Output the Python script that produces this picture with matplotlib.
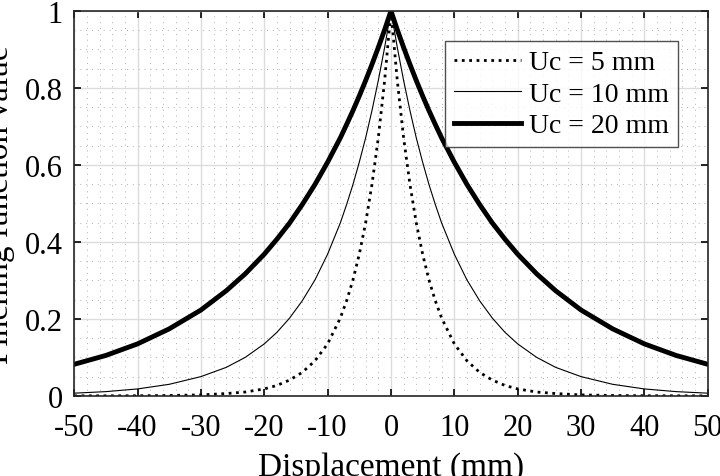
import numpy as np
import matplotlib
matplotlib.use("Agg")
import matplotlib.pyplot as plt
from matplotlib.ticker import MultipleLocator

plt.rcParams['font.family'] = ['Liberation Serif', 'DejaVu Serif']
plt.rcParams['axes.unicode_minus'] = False

# right half of the curves (they are symmetric about 0)
disp_half = [0, 1, 2, 3, 4, 5, 6, 7, 8, 10, 12, 14, 16, 18, 20, 23, 26, 30, 35, 40, 45, 50]
uc5_half = [1.0, 0.819, 0.670, 0.549, 0.449, 0.368, 0.301, 0.247, 0.202, 0.135, 0.091,
            0.061, 0.041, 0.027, 0.018, 0.010, 0.006, 0.0025, 0.001, 0.0003, 0.0001, 0.0]
uc10_half = [1.0, 0.905, 0.819, 0.741, 0.670, 0.607, 0.549, 0.497, 0.449, 0.368, 0.301,
             0.247, 0.202, 0.165, 0.135, 0.100, 0.074, 0.050, 0.030, 0.018, 0.011, 0.007]
uc20_half = [1.0, 0.951, 0.905, 0.861, 0.819, 0.779, 0.741, 0.705, 0.670, 0.607, 0.549,
             0.497, 0.449, 0.407, 0.368, 0.317, 0.273, 0.223, 0.174, 0.135, 0.105, 0.082]
labels = ["Uc = 5 mm", "Uc = 10 mm", "Uc = 20 mm"]


def mirror(xs, ys):
    xs = np.asarray(xs, float)
    ys = np.asarray(ys, float)
    return np.concatenate([-xs[:0:-1], xs]), np.concatenate([ys[:0:-1], ys])


fig = plt.figure(figsize=(7.2, 4.77), dpi=100)
ax = fig.add_axes([0.103, 0.168, 0.880, 0.807])

x, y = mirror(disp_half, uc5_half)
ax.plot(x, y, color='black', linestyle=':', lw=2.0, label=labels[0])
x, y = mirror(disp_half, uc10_half)
ax.plot(x, y, color='black', linestyle='-', lw=0.8, label=labels[1])
x, y = mirror(disp_half, uc20_half)
ax.plot(x, y, color='black', linestyle='-', lw=3.5, label=labels[2])

ax.set_xlim(-50, 50)
ax.set_ylim(0, 1)
ax.xaxis.set_major_locator(MultipleLocator(10))
ax.xaxis.set_minor_locator(MultipleLocator(2))
ax.yaxis.set_major_locator(MultipleLocator(0.2))
ax.yaxis.set_minor_locator(MultipleLocator(0.05))
ax.set_yticks([0, 0.2, 0.4, 0.6, 0.8, 1])
ax.set_yticklabels(['0', '0.2', '0.4', '0.6', '0.8', '1'])

ax.grid(which='major', color='#dcdcdc', lw=1.0, ls='-')
ax.grid(which='minor', color='#b0b0b0', lw=0.7, ls=(0, (1, 5)))
ax.set_axisbelow(True)

ax.tick_params(which='major', direction='in', length=5, width=1.2,
               top=True, right=True, labelsize=22, pad=8, colors='black')
ax.tick_params(axis='x', which='major', pad=12)
ax.tick_params(which='minor', length=0)
for sp in ax.spines.values():
    sp.set_linewidth(1.2)
    sp.set_color('#262626')

ax.set_xlabel('Displacement (mm)', fontsize=24)
ax.xaxis.set_label_coords(0.5, -0.143)
ax.set_ylabel('Pinching function value', fontsize=24)
ax.yaxis.set_label_coords(-0.093, 0.5)

leg = ax.legend(loc='upper right', bbox_to_anchor=(0.953, 0.922), fontsize=20,
                frameon=True, fancybox=False, handlelength=2.4, handletextpad=0.3,
                borderpad=0.32, labelspacing=0.22, borderaxespad=0)
leg.get_frame().set_edgecolor('#262626')
leg.get_frame().set_linewidth(1.0)

fig.savefig('out.png', dpi=100)
